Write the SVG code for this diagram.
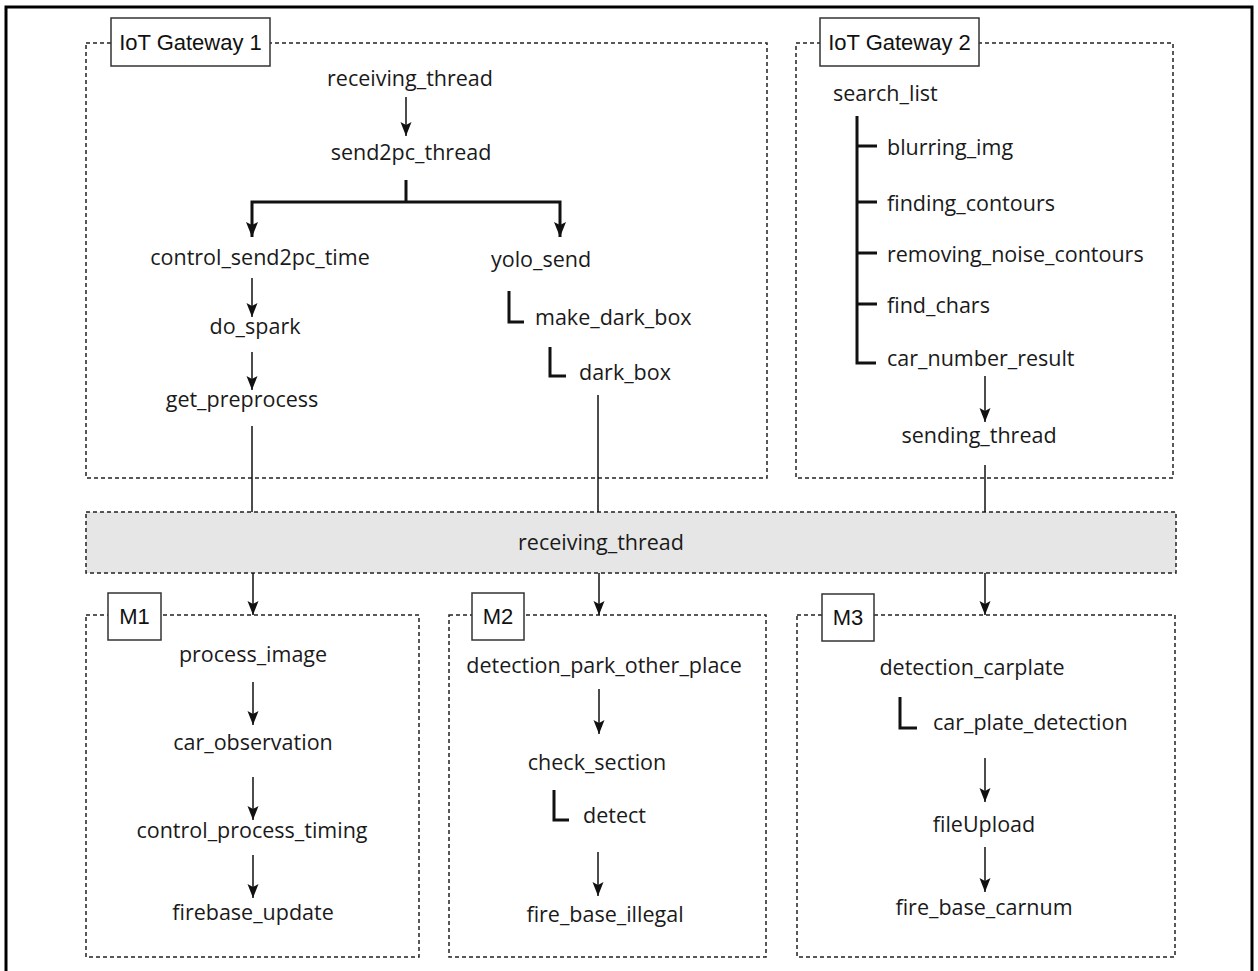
<svg xmlns="http://www.w3.org/2000/svg" width="1258" height="971" viewBox="0 0 1258 971">
  <defs>
    <style>
      .frame { fill: none; stroke: #000; stroke-width: 3; }
      .zone { fill: none; stroke: #222; stroke-width: 1.5; stroke-dasharray: 4 3; }
      .bar { fill: #e6e6e6; stroke: #222; stroke-width: 1.5; stroke-dasharray: 4 3; }
      .tag { fill: #fff; stroke: #333; stroke-width: 1.5; }
      .tagtxt { font-family: "Liberation Sans", Arial, sans-serif; font-size: 22px; fill: #111; text-anchor: middle; }
      .fn { font-family: "Open Sans", "Noto Sans", sans-serif; font-size: 21.5px; fill: #1a1a1a; }
      .c { text-anchor: middle; }
      .arrow { fill: none; stroke: #111; stroke-width: 1.5; marker-end: url(#head); }
      .wire { fill: none; stroke: #111; stroke-width: 1.5; }
      .thick { fill: none; stroke: #111; stroke-width: 3; }
      .thickarrow { fill: none; stroke: #111; stroke-width: 3; marker-end: url(#headBig); }
    </style>
    <marker id="head" markerUnits="userSpaceOnUse" viewBox="0 0 15 12" markerWidth="15" markerHeight="12" refX="14" refY="6" orient="auto">
      <path d="M0,0.5 L14,6 L0,11.5 L3,6 z" fill="#111"/>
    </marker>
    <marker id="headBig" markerUnits="userSpaceOnUse" viewBox="0 0 16 14" markerWidth="16" markerHeight="14" refX="15" refY="7" orient="auto">
      <path d="M0,1 L15,7 L0,13 L3,7 z" fill="#111"/>
    </marker>
  </defs>

  <rect width="1258" height="971" fill="#fff"/>
  <path class="frame" d="M6,980 V7 H1252 V980"/>

  <!-- containers -->
  <g id="gateway1">
    <rect class="zone" x="86" y="43" width="681" height="435"/>
    <rect class="tag" x="111" y="18" width="159" height="48"/>
    <text class="tagtxt" x="190.5" y="50">IoT Gateway 1</text>
  </g>
  <g id="gateway2">
    <rect class="zone" x="796" y="43" width="377" height="435"/>
    <rect class="tag" x="820" y="18" width="159" height="48"/>
    <text class="tagtxt" x="899.5" y="50">IoT Gateway 2</text>
  </g>
  <g id="receiver">
    <rect class="bar" x="86" y="512" width="1090" height="61"/>
    <text class="fn c" x="601" y="550">receiving_thread</text>
  </g>
  <g id="m1">
    <rect class="zone" x="86" y="615" width="333" height="342"/>
    <rect class="tag" x="108" y="593" width="53" height="47"/>
    <text class="tagtxt" x="134.5" y="624">M1</text>
  </g>
  <g id="m2">
    <rect class="zone" x="449" y="615" width="317" height="342"/>
    <rect class="tag" x="472" y="593" width="52" height="47"/>
    <text class="tagtxt" x="498" y="624">M2</text>
  </g>
  <g id="m3">
    <rect class="zone" x="797" y="615" width="378" height="342"/>
    <rect class="tag" x="822" y="594" width="52" height="47"/>
    <text class="tagtxt" x="848" y="625">M3</text>
  </g>

  <!-- gateway 1 functions -->
  <g id="g1-receiving-thread"><text class="fn c" x="410" y="86">receiving_thread</text></g>
  <g id="g1-send2pc-thread"><text class="fn c" x="411" y="160">send2pc_thread</text></g>
  <g id="g1-control-send2pc-time"><text class="fn c" x="260" y="265">control_send2pc_time</text></g>
  <g id="g1-yolo-send"><text class="fn c" x="541" y="267">yolo_send</text></g>
  <g id="g1-do-spark"><text class="fn c" x="255" y="334">do_spark</text></g>
  <g id="g1-get-preprocess"><text class="fn c" x="242" y="407">get_preprocess</text></g>
  <g id="g1-make-dark-box"><text class="fn" x="535" y="325">make_dark_box</text></g>
  <g id="g1-dark-box"><text class="fn" x="579" y="380">dark_box</text></g>

  <!-- gateway 2 functions -->
  <g id="g2-search-list"><text class="fn" x="833" y="101">search_list</text></g>
  <g id="g2-blurring-img"><text class="fn" x="887" y="155">blurring_img</text></g>
  <g id="g2-finding-contours"><text class="fn" x="887" y="211">finding_contours</text></g>
  <g id="g2-removing-noise-contours"><text class="fn" x="887" y="262">removing_noise_contours</text></g>
  <g id="g2-find-chars"><text class="fn" x="887" y="313">find_chars</text></g>
  <g id="g2-car-number-result"><text class="fn" x="887" y="366">car_number_result</text></g>
  <g id="g2-sending-thread"><text class="fn c" x="979" y="443">sending_thread</text></g>

  <!-- M1 functions -->
  <g id="m1-process-image"><text class="fn c" x="253" y="662">process_image</text></g>
  <g id="m1-car-observation"><text class="fn c" x="253" y="750">car_observation</text></g>
  <g id="m1-control-process-timing"><text class="fn c" x="252" y="838">control_process_timing</text></g>
  <g id="m1-firebase-update"><text class="fn c" x="253" y="920">firebase_update</text></g>

  <!-- M2 functions -->
  <g id="m2-detection-park-other-place"><text class="fn c" x="604" y="673">detection_park_other_place</text></g>
  <g id="m2-check-section"><text class="fn c" x="597" y="770">check_section</text></g>
  <g id="m2-detect"><text class="fn" x="583" y="823">detect</text></g>
  <g id="m2-fire-base-illegal"><text class="fn c" x="605" y="922">fire_base_illegal</text></g>

  <!-- M3 functions -->
  <g id="m3-detection-carplate"><text class="fn c" x="972" y="675">detection_carplate</text></g>
  <g id="m3-car-plate-detection"><text class="fn" x="933" y="730">car_plate_detection</text></g>
  <g id="m3-file-upload"><text class="fn c" x="984" y="832">fileUpload</text></g>
  <g id="m3-fire-base-carnum"><text class="fn c" x="984" y="915">fire_base_carnum</text></g>

  <!-- connectors -->
  <g id="connectors">
    <!-- gateway 1 -->
    <path class="arrow" d="M406,97 V136"/>
    <path class="thick" d="M406,180 V202"/>
    <path class="thickarrow" d="M406,202 H252 V237"/>
    <path class="thickarrow" d="M406,202 H560 V237"/>
    <path class="arrow" d="M252,278 V317"/>
    <path class="arrow" d="M252,352 V390"/>
    <path class="thick" d="M509,291 V322 H524"/>
    <path class="thick" d="M550,347 V376 H566"/>
    <path class="wire" d="M252,426 V512"/>
    <path class="wire" d="M598,395 V512"/>

    <!-- gateway 2 -->
    <path class="thick" d="M857,116 V363 H876"/>
    <path class="thick" d="M857,146 H877 M857,202 H877 M857,253 H877 M857,304 H877"/>
    <path class="arrow" d="M985,376 V422"/>
    <path class="wire" d="M985,465 V512"/>

    <!-- receiver to workers -->
    <path class="arrow" d="M253,573 V615"/>
    <path class="arrow" d="M599,573 V615"/>
    <path class="arrow" d="M985,573 V615"/>

    <!-- M1 -->
    <path class="arrow" d="M253,682 V725"/>
    <path class="arrow" d="M253,777 V820"/>
    <path class="arrow" d="M253,855 V898"/>

    <!-- M2 -->
    <path class="arrow" d="M599,689 V734"/>
    <path class="thick" d="M554,790 V820 H569"/>
    <path class="arrow" d="M598,852 V896"/>

    <!-- M3 -->
    <path class="thick" d="M900,697 V728 H917"/>
    <path class="arrow" d="M985,758 V802"/>
    <path class="arrow" d="M985,847 V892"/>
  </g>
</svg>
